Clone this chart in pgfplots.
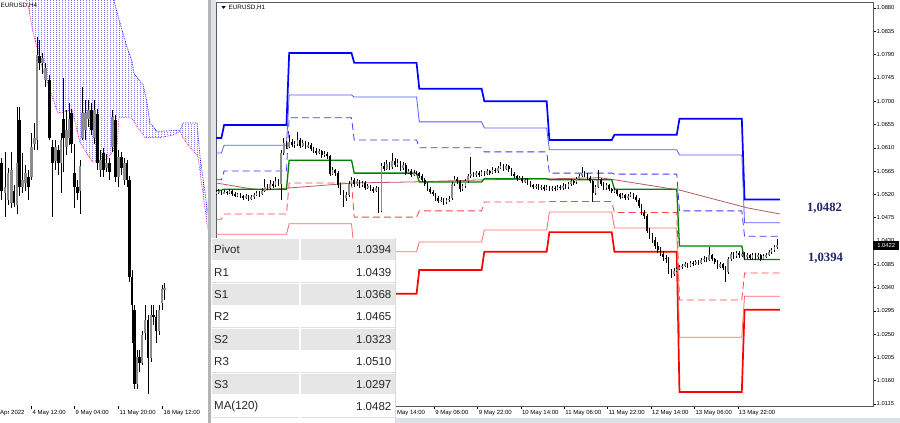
\documentclass[border=0pt]{standalone}
\usepackage{fontspec}
\setmainfont{Liberation Sans}
\newfontfamily\lserif{Liberation Serif}
\usepackage{pgfplots}
\pgfplotsset{compat=1.18}
\usepackage{pgfplotstable}
\usetikzlibrary{patterns}

\pgfdeclarepatternformonly{vdots}{\pgfqpoint{0pt}{0pt}}{\pgfqpoint{3.3pt}{2pt}}{\pgfqpoint{3.3pt}{2pt}}{%
  \pgfpathrectangle{\pgfqpoint{0pt}{0pt}}{\pgfqpoint{1.1pt}{1.1pt}}\pgfusepath{fill}}

\definecolor{rthree}{HTML}{0000FF}
\definecolor{rtwo}{HTML}{5A5AFF}
\definecolor{rone}{HTML}{3A3AFF}
\definecolor{pivotc}{HTML}{008000}
\definecolor{sone}{HTML}{FF4545}
\definecolor{stwo}{HTML}{FF6A6A}
\definecolor{sthree}{HTML}{FF0000}
\definecolor{maline}{HTML}{B85A5A}
\definecolor{navylab}{HTML}{23236B}
\definecolor{rowgray}{HTML}{E6E6E6}
\definecolor{sepgray}{HTML}{B4B4B4}
\definecolor{seplight}{HTML}{DDE2E8}
\definecolor{framegray}{HTML}{5A5A5A}
\definecolor{bullgray}{HTML}{8C8C8C}
\definecolor{tabtext}{HTML}{262626}
\definecolor{cloudblue}{HTML}{3C3CF5}

\newcommand\tickfont{\fontsize{5.8}{6.5}\selectfont}
\newcommand\timefont{\fontsize{6}{7}\selectfont}

% H1 candles: hour, open, high, low, close
\pgfplotstableread{
x o h l c
0 1.0522 1.0528 1.0519 1.0524
1 1.0524 1.0530 1.0521 1.0526
2 1.0526 1.0529 1.0518 1.0522
3 1.0522 1.0528 1.0520 1.0525
4 1.0525 1.0527 1.0519 1.0523
5 1.0523 1.0530 1.0521 1.0526
6 1.0526 1.0528 1.0517 1.0521
7 1.0521 1.0524 1.0514 1.0518
8 1.0518 1.0523 1.0515 1.0520
9 1.0520 1.0522 1.0512 1.0516
10 1.0516 1.0519 1.0509 1.0514
11 1.0514 1.0521 1.0511 1.0517
12 1.0517 1.0519 1.0507 1.0512
13 1.0512 1.0518 1.0509 1.0515
14 1.0515 1.0523 1.0512 1.0519
15 1.0519 1.0527 1.0516 1.0522
16 1.0522 1.0526 1.0515 1.0520
17 1.0520 1.0533 1.0518 1.0527
18 1.0527 1.0550 1.0524 1.0535
19 1.0535 1.0541 1.0528 1.0532
20 1.0532 1.0548 1.0529 1.0540
21 1.0540 1.0546 1.0533 1.0538
22 1.0538 1.0553 1.0535 1.0545
23 1.0545 1.0550 1.0536 1.0541
24 1.0541 1.0606 1.0510 1.0600
25 1.0600 1.0628 1.0596 1.0619
26 1.0619 1.0624 1.0607 1.0612
27 1.0612 1.0635 1.0609 1.0622
28 1.0622 1.0627 1.0611 1.0615
29 1.0615 1.0624 1.0610 1.0618
30 1.0618 1.0640 1.0614 1.0625
31 1.0625 1.0629 1.0609 1.0614
32 1.0614 1.0626 1.0611 1.0620
33 1.0620 1.0623 1.0607 1.0612
34 1.0612 1.0621 1.0609 1.0616
35 1.0616 1.0619 1.0603 1.0608
36 1.0608 1.0612 1.0600 1.0604
37 1.0604 1.0609 1.0596 1.0600
38 1.0600 1.0607 1.0597 1.0603
39 1.0603 1.0606 1.0591 1.0596
40 1.0596 1.0603 1.0593 1.0598
41 1.0598 1.0601 1.0589 1.0594
42 1.0594 1.0597 1.0555 1.0560
43 1.0560 1.0572 1.0557 1.0567
44 1.0567 1.0570 1.0556 1.0562
45 1.0562 1.0565 1.0532 1.0538
46 1.0538 1.0542 1.0519 1.0525
47 1.0525 1.0529 1.0496 1.0512
48 1.0512 1.0524 1.0507 1.0518
49 1.0518 1.0545 1.0515 1.0540
50 1.0540 1.0553 1.0536 1.0548
51 1.0548 1.0551 1.0535 1.0540
52 1.0540 1.0549 1.0537 1.0545
53 1.0545 1.0548 1.0533 1.0538
54 1.0538 1.0546 1.0535 1.0542
55 1.0542 1.0545 1.0529 1.0533
56 1.0533 1.0540 1.0530 1.0536
57 1.0536 1.0539 1.0526 1.0530
58 1.0530 1.0534 1.0522 1.0527
59 1.0527 1.0537 1.0524 1.0532
60 1.0532 1.0535 1.0484 1.0488
61 1.0488 1.0580 1.0486 1.0575
62 1.0575 1.0582 1.0566 1.0570
63 1.0570 1.0586 1.0567 1.0578
64 1.0578 1.0583 1.0568 1.0572
65 1.0572 1.0600 1.0569 1.0585
66 1.0585 1.0590 1.0572 1.0576
67 1.0576 1.0588 1.0573 1.0580
68 1.0580 1.0584 1.0565 1.0570
69 1.0570 1.0582 1.0567 1.0576
70 1.0576 1.0580 1.0558 1.0562
71 1.0562 1.0570 1.0559 1.0565
72 1.0565 1.0568 1.0553 1.0558
73 1.0558 1.0567 1.0555 1.0562
74 1.0562 1.0566 1.0557 1.0561
75 1.0561 1.0564 1.0552 1.0556
76 1.0556 1.0559 1.0544 1.0548
77 1.0548 1.0551 1.0536 1.0540
78 1.0540 1.0543 1.0526 1.0530
79 1.0530 1.0534 1.0520 1.0524
80 1.0524 1.0528 1.0516 1.0520
81 1.0520 1.0523 1.0508 1.0512
82 1.0512 1.0516 1.0504 1.0508
83 1.0508 1.0515 1.0505 1.0510
84 1.0510 1.0513 1.0500 1.0505
85 1.0505 1.0513 1.0502 1.0509
86 1.0509 1.0516 1.0506 1.0512
87 1.0512 1.0544 1.0510 1.0540
88 1.0540 1.0555 1.0537 1.0550
89 1.0550 1.0553 1.0540 1.0545
90 1.0545 1.0548 1.0524 1.0530
91 1.0530 1.0540 1.0527 1.0536
92 1.0536 1.0549 1.0533 1.0545
93 1.0545 1.0559 1.0542 1.0555
94 1.0555 1.0592 1.0552 1.0560
95 1.0560 1.0564 1.0553 1.0557
96 1.0557 1.0566 1.0554 1.0562
97 1.0562 1.0565 1.0554 1.0558
98 1.0558 1.0567 1.0555 1.0563
99 1.0563 1.0566 1.0556 1.0560
100 1.0560 1.0569 1.0557 1.0565
101 1.0565 1.0568 1.0558 1.0562
102 1.0562 1.0572 1.0559 1.0568
103 1.0568 1.0571 1.0561 1.0565
104 1.0565 1.0575 1.0562 1.0571
105 1.0571 1.0582 1.0568 1.0575
106 1.0575 1.0578 1.0566 1.0570
107 1.0570 1.0578 1.0567 1.0574
108 1.0574 1.0577 1.0564 1.0568
109 1.0568 1.0571 1.0556 1.0560
110 1.0560 1.0563 1.0551 1.0555
111 1.0555 1.0558 1.0546 1.0550
112 1.0550 1.0556 1.0547 1.0552
113 1.0552 1.0555 1.0541 1.0545
114 1.0545 1.0552 1.0542 1.0548
115 1.0548 1.0551 1.0538 1.0542
116 1.0542 1.0545 1.0534 1.0538
117 1.0538 1.0541 1.0530 1.0534
118 1.0534 1.0541 1.0531 1.0537
119 1.0537 1.0540 1.0528 1.0532
120 1.0532 1.0539 1.0529 1.0535
121 1.0535 1.0538 1.0527 1.0531
122 1.0531 1.0538 1.0528 1.0534
123 1.0534 1.0537 1.0526 1.0530
124 1.0530 1.0537 1.0527 1.0533
125 1.0533 1.0536 1.0527 1.0531
126 1.0531 1.0539 1.0528 1.0535
127 1.0535 1.0538 1.0528 1.0532
128 1.0532 1.0541 1.0529 1.0537
129 1.0537 1.0540 1.0530 1.0534
130 1.0534 1.0544 1.0531 1.0540
131 1.0540 1.0549 1.0537 1.0545
132 1.0545 1.0548 1.0539 1.0543
133 1.0543 1.0554 1.0540 1.0550
134 1.0550 1.0560 1.0547 1.0556
135 1.0556 1.0573 1.0553 1.0562
136 1.0562 1.0566 1.0554 1.0558
137 1.0558 1.0561 1.0548 1.0552
138 1.0552 1.0555 1.0541 1.0545
139 1.0545 1.0548 1.0506 1.0522
140 1.0522 1.0539 1.0519 1.0535
141 1.0535 1.0567 1.0532 1.0548
142 1.0548 1.0551 1.0536 1.0540
143 1.0540 1.0543 1.0528 1.0532
144 1.0532 1.0542 1.0529 1.0538
145 1.0538 1.0541 1.0526 1.0530
146 1.0530 1.0533 1.0522 1.0526
147 1.0526 1.0532 1.0523 1.0528
148 1.0528 1.0531 1.0516 1.0520
149 1.0520 1.0523 1.0511 1.0515
150 1.0515 1.0522 1.0512 1.0518
151 1.0518 1.0521 1.0509 1.0513
152 1.0513 1.0521 1.0510 1.0517
153 1.0517 1.0524 1.0514 1.0520
154 1.0520 1.0523 1.0511 1.0515
155 1.0515 1.0518 1.0506 1.0510
156 1.0510 1.0513 1.0494 1.0498
157 1.0498 1.0502 1.0481 1.0485
158 1.0485 1.0489 1.0472 1.0478
159 1.0478 1.0482 1.0445 1.0450
160 1.0450 1.0455 1.0434 1.0440
161 1.0440 1.0446 1.0427 1.0432
162 1.0432 1.0437 1.0414 1.0420
163 1.0420 1.0428 1.0406 1.0412
164 1.0412 1.0418 1.0400 1.0405
165 1.0405 1.0410 1.0392 1.0398
166 1.0398 1.0403 1.0388 1.0395
167 1.0395 1.0399 1.0366 1.0372
168 1.0372 1.0376 1.0358 1.0366
169 1.0366 1.0377 1.0363 1.0372
170 1.0372 1.0380 1.0369 1.0376
171 1.0376 1.0384 1.0373 1.0380
172 1.0380 1.0386 1.0376 1.0382
173 1.0382 1.0389 1.0379 1.0385
174 1.0385 1.0388 1.0378 1.0382
175 1.0382 1.0392 1.0379 1.0388
176 1.0388 1.0391 1.0382 1.0386
177 1.0386 1.0394 1.0383 1.0390
178 1.0390 1.0393 1.0384 1.0388
179 1.0388 1.0397 1.0385 1.0393
180 1.0393 1.0400 1.0390 1.0396
181 1.0396 1.0399 1.0390 1.0394
182 1.0394 1.0418 1.0391 1.0402
183 1.0402 1.0405 1.0391 1.0395
184 1.0395 1.0398 1.0385 1.0390
185 1.0390 1.0393 1.0375 1.0380
186 1.0380 1.0389 1.0377 1.0385
187 1.0385 1.0388 1.0373 1.0378
188 1.0378 1.0381 1.0351 1.0370
189 1.0370 1.0399 1.0367 1.0395
190 1.0395 1.0409 1.0392 1.0405
191 1.0405 1.0408 1.0396 1.0400
192 1.0400 1.0411 1.0397 1.0407
193 1.0407 1.0410 1.0398 1.0402
194 1.0402 1.0409 1.0399 1.0405
195 1.0405 1.0408 1.0394 1.0398
196 1.0398 1.0406 1.0395 1.0402
197 1.0402 1.0405 1.0393 1.0397
198 1.0397 1.0407 1.0394 1.0403
199 1.0403 1.0406 1.0394 1.0398
200 1.0398 1.0406 1.0395 1.0402
201 1.0402 1.0405 1.0392 1.0396
202 1.0396 1.0404 1.0393 1.0400
203 1.0400 1.0407 1.0397 1.0403
204 1.0403 1.0412 1.0400 1.0408
205 1.0408 1.0416 1.0405 1.0412
206 1.0412 1.0422 1.0409 1.0418
207 1.0418 1.0433 1.0415 1.0422
}\hone

% daily levels (step lines)
\pgfplotstableread{
x R3 R2 R1 P S1 S2 S3
0 1.0629 1.0600 1.0548 1.0528 1.0472 1.0443 1.0389
2 1.0629 1.0600 1.0548 1.0528 1.0472 1.0443 1.0389
3 1.0654 1.0615 1.0565 1.0530 1.0482 1.0443 1.0389
26 1.0654 1.0615 1.0565 1.0530 1.0482 1.0443 1.0389
27 1.0793 1.0712 1.0668 1.0586 1.0542 1.0463 1.0403
50 1.0793 1.0712 1.0668 1.0586 1.0542 1.0463 1.0403
51 1.0774 1.0708 1.0625 1.0561 1.0476 1.0409 1.0328
74 1.0774 1.0708 1.0625 1.0561 1.0476 1.0409 1.0328
75 1.0724 1.0660 1.0610 1.0544 1.0488 1.0428 1.0374
98 1.0724 1.0660 1.0610 1.0544 1.0488 1.0428 1.0374
99 1.0700 1.0648 1.0602 1.0550 1.0505 1.0451 1.0409
122 1.0700 1.0648 1.0602 1.0550 1.0505 1.0451 1.0409
123 1.0625 1.0606 1.0561 1.0548 1.0506 1.0486 1.0447
146 1.0625 1.0606 1.0561 1.0548 1.0506 1.0486 1.0447
147 1.0635 1.0606 1.0559 1.0530 1.0485 1.0455 1.0409
170 1.0635 1.0606 1.0559 1.0530 1.0485 1.0455 1.0409
171 1.0666 1.0596 1.0488 1.0420 1.0316 1.0244 1.0138
194 1.0666 1.0596 1.0488 1.0420 1.0316 1.0244 1.0138
195 1.0510 1.0465 1.0439 1.0394 1.0368 1.0323 1.0297
208 1.0510 1.0465 1.0439 1.0394 1.0368 1.0323 1.0297
}\levels

% H4 candles (left panel)
\pgfplotstableread{
x o h l c
1.5 1.0537 1.0541 1.0506 1.0514
5 1.0512 1.0546 1.0492 1.0517
8 1.0506 1.0533 1.0502 1.0529
11.5 1.0504 1.0546 1.0500 1.0531
14 1.0514 1.0519 1.0500 1.0504
17 1.0502 1.0583 1.0495 1.0537
19.5 1.0573 1.0583 1.0510 1.0517
22.5 1.0517 1.0545 1.0512 1.0523
25.5 1.0520 1.0535 1.0514 1.0529
28.5 1.0525 1.0531 1.0506 1.0517
31.5 1.0525 1.0562 1.0523 1.0550
34.5 1.0553 1.0570 1.0548 1.0558
37 1.0556 1.0641 1.0548 1.0626
39.5 1.0626 1.0639 1.0614 1.0620
42.5 1.0620 1.0628 1.0611 1.0624
45.5 1.0606 1.0620 1.0600 1.0616
49.5 1.0606 1.0610 1.0556 1.0558
52.5 1.0550 1.0556 1.0492 1.0537
55.5 1.0539 1.0556 1.0531 1.0550
58.5 1.0548 1.0552 1.0527 1.0537
61 1.0537 1.0562 1.0512 1.0556
63.5 1.0573 1.0607 1.0529 1.0558
66.5 1.0550 1.0581 1.0544 1.0564
69 1.0558 1.0587 1.0552 1.0573
71.5 1.0578 1.0582 1.0545 1.0553
74.5 1.0529 1.0553 1.0500 1.0517
77.5 1.0517 1.0523 1.0506 1.0512
80 1.0514 1.0539 1.0495 1.0534
82.5 1.0558 1.0600 1.0556 1.0578
85.5 1.0564 1.0589 1.0556 1.0578
88.5 1.0573 1.0589 1.0567 1.0581
91.5 1.0581 1.0587 1.0560 1.0564
94.5 1.0558 1.0589 1.0553 1.0581
97.5 1.0578 1.0582 1.0531 1.0537
100.5 1.0531 1.0548 1.0525 1.0539
103.5 1.0545 1.0549 1.0525 1.0531
106.5 1.0533 1.0544 1.0529 1.0537
109.5 1.0537 1.0541 1.0523 1.0529
112.5 1.0550 1.0581 1.0546 1.0575
115.5 1.0573 1.0577 1.0521 1.0525
118.5 1.0525 1.0548 1.0517 1.0542
121.5 1.0542 1.0546 1.0527 1.0533
124.5 1.0523 1.0541 1.0519 1.0537
127 1.0537 1.0539 1.0517 1.0523
129.5 1.0523 1.0526 1.0438 1.0442
132 1.0442 1.0448 1.0388 1.0419
134.5 1.0415 1.0419 1.0350 1.0354
137 1.0354 1.0382 1.0350 1.0376
139.5 1.0376 1.0382 1.0364 1.0371
142 1.0371 1.0398 1.0369 1.0394
145 1.0396 1.0419 1.0390 1.0407
148 1.0407 1.0411 1.0345 1.0375
151 1.0375 1.0419 1.0372 1.0411
153.5 1.0411 1.0419 1.0403 1.0409
156 1.0409 1.0415 1.0388 1.0398
159 1.0398 1.0419 1.0394 1.0415
162 1.0421 1.0436 1.0415 1.0432
164.5 1.0432 1.0437 1.0423 1.0433
}\hfour

\pgfplotsset{
  wick/.style={draw=none, mark=none, forget plot,
    error bars/.cd, y dir=both, y explicit, error mark=none,
    error bar style={draw=black, solid, line cap=butt, line width=#1}},
  body/.style 2 args={draw=none, mark=none, forget plot,
    error bars/.cd, y dir=both, y explicit, error mark=none,
    error bar style={draw=#1, solid, line cap=butt, line width=#2}},
}

\begin{document}
\begin{tikzpicture}[x=1pt,y=1pt]
\path[use as bounding box] (0,0) rectangle (900,423);
\fill[white] (0,0) rectangle (900,423);

%================ LEFT PANEL (H4) =================
\begin{axis}[at={(0pt,16.5pt)}, anchor=south west, scale only axis,
  width=207.5pt, height=406.5pt,
  xmin=0, xmax=207.5, ymin=1.0335, ymax=1.0672,
  axis x line=bottom, axis y line=none,
  x axis line style={-, draw=none},
  ytick=\empty,
  xtick={31.5,74.5,118.5,162.5},
  xticklabels={4 May 12:00, 9 May 04:00, 11 May 20:00, 16 May 12:00},
  xticklabel style={anchor=north west, font=\timefont, inner sep=1pt},
  tick align=outside, major tick length=2.5pt,
  tick style={black, line width=0.4pt},
  clip mode=individual]
% Ichimoku cloud
\addplot[draw=none, pattern=vdots, pattern color=cloudblue] coordinates {
 (25,1.0676) (113,1.0676) (115,1.0668) (120,1.0653) (127,1.0633) (132,1.0621) (134,1.0611)
 (143,1.0602) (147,1.0587) (150,1.0570) (157,1.0563) (180,1.0564) (183,1.0570) (197,1.0570)
 (200,1.0542) (208,1.0494)
 (208,1.0481) (198,1.0542) (190,1.0550) (183,1.0558) (180,1.0563) (173,1.0560) (160,1.0558)
 (145,1.0558) (137,1.0567) (132,1.0574) (119,1.0575) (117,1.0550) (103,1.0537) (92,1.0538)
 (80,1.0554) (72,1.0581) (58,1.0578) (43,1.0614) (33,1.0645) (28,1.0668) (25,1.0676)} -- cycle;
\addplot[blue, densely dotted, line width=0.7pt] coordinates {
 (113,1.0676) (115,1.0668) (120,1.0653) (127,1.0633) (132,1.0621) (134,1.0611)
 (143,1.0602) (147,1.0587) (150,1.0570) (157,1.0563) (180,1.0564) (183,1.0570) (197,1.0570)
 (200,1.0542) (208,1.0494)};
\addplot[magenta, densely dotted, line width=0.7pt] coordinates {
 (208,1.0481) (198,1.0542) (190,1.0550) (183,1.0558) (180,1.0563) (173,1.0560) (160,1.0558)
 (145,1.0558) (137,1.0567) (132,1.0574) (119,1.0575) (117,1.0550) (103,1.0537) (92,1.0538)
 (80,1.0554) (72,1.0581) (58,1.0578) (43,1.0614) (33,1.0645) (28,1.0668) (25,1.0676)};
% wicks
\addplot[wick=0.7pt]
  table[x=x, y expr={(\thisrow{h}+\thisrow{l})/2}, y error expr={(\thisrow{h}-\thisrow{l})/2}] {\hfour};
% bull bodies
\addplot[restrict expr to domain={\thisrow{c}-\thisrow{o}}{0:1}, body={bullgray}{2.2pt}]
  table[x=x, y expr={(\thisrow{o}+\thisrow{c})/2}, y error expr={abs(\thisrow{c}-\thisrow{o})/2}] {\hfour};
% bear bodies
\addplot[restrict expr to domain={\thisrow{c}-\thisrow{o}}{-1:0}, body={black}{2.2pt}]
  table[x=x, y expr={(\thisrow{o}+\thisrow{c})/2}, y error expr={abs(\thisrow{c}-\thisrow{o})/2}] {\hfour};
\node[anchor=north west, font=\timefont, inner sep=1pt] at (axis cs:-1,1.0335) [yshift=-2.5pt] {Apr 2022};
\end{axis}
\node[anchor=west, font=\fontsize{6.3}{7}\selectfont, inner sep=0pt] at (0.5,417.5) {EURUSD,H4};

% separator between panels
\fill[sepgray] (207.5,0) rectangle (211,423);
\fill[seplight] (211,0) rectangle (215.5,423);

%================ RIGHT PANEL (H1) =================
\begin{axis}[at={(216pt,16.5pt)}, anchor=south west, scale only axis,
  width=657pt, height=404.5pt,
  xmin=0, xmax=242.4, ymin=1.01101, ymax=1.08916,
  axis line style={draw=framegray, line width=0.8pt},
  ytick={1.0115,1.0160,1.0205,1.0250,1.0295,1.0340,1.0385,1.0430,1.0475,1.0520,1.0565,1.0610,1.0655,1.0700,1.0745,1.0790,1.0835,1.0880},
  yticklabel pos=right, ytick pos=right, scaled y ticks=false,
  yticklabel style={font=\tickfont, anchor=west, inner sep=1pt,
    /pgf/number format/fixed, /pgf/number format/fixed zerofill,
    /pgf/number format/precision=4, /pgf/number format/assume math mode=true},
  xtick={64.5,80.5,96.5,112.5,128.5,144.5,160.5,176.5,192.5},
  xticklabels={6 May 14:00, 9 May 06:00, 9 May 22:00, 10 May 14:00, 11 May 06:00, 11 May 22:00, 12 May 14:00, 13 May 06:00, 13 May 22:00},
  xtick pos=bottom,
  xticklabel style={anchor=north west, font=\timefont, inner sep=1pt},
  tick align=outside, major tick length=2.5pt,
  tick style={black, line width=0.4pt},
  clip mode=individual]
% MA(120)
\addplot[maline, line width=0.8pt] coordinates {
 (0,1.0542) (11.4,1.0532) (17.7,1.0528) (26.2,1.0532) (36.2,1.0536) (50.9,1.0542)
 (73.1,1.0544) (98.5,1.0548) (122.9,1.0550) (141.7,1.0552) (147.2,1.0548)
 (171.2,1.0528) (195.9,1.0494) (208,1.0482)};
% levels
\addplot[sthree, line width=1.7pt] table[x=x, y=S3] {\levels};
\addplot[stwo, line width=0.8pt] table[x=x, y=S2] {\levels};
\addplot[sone, line width=0.8pt, dash pattern=on 7pt off 4pt] table[x=x, y=S1] {\levels};
\addplot[rthree, line width=1.7pt] table[x=x, y=R3] {\levels};
\addplot[rtwo, line width=0.8pt] table[x=x, y=R2] {\levels};
\addplot[rone, line width=0.8pt, dash pattern=on 7pt off 4pt] table[x=x, y=R1] {\levels};
\addplot[pivotc, line width=1.3pt] table[x=x, y=P] {\levels};
% wicks
\addplot[wick=0.6pt]
  table[x=x, y expr={(\thisrow{h}+\thisrow{l})/2}, y error expr={(\thisrow{h}-\thisrow{l})/2}] {\hone};
% bull bodies
\addplot[restrict expr to domain={\thisrow{c}-\thisrow{o}}{0:1}, body={bullgray}{1.6pt}]
  table[x=x, y expr={(\thisrow{o}+\thisrow{c})/2}, y error expr={abs(\thisrow{c}-\thisrow{o})/2}] {\hone};
% bear bodies
\addplot[restrict expr to domain={\thisrow{c}-\thisrow{o}}{-1:0}, body={black}{1.6pt}]
  table[x=x, y expr={(\thisrow{o}+\thisrow{c})/2}, y error expr={abs(\thisrow{c}-\thisrow{o})/2}] {\hone};
% current price box
\node[anchor=west, fill=black, text=white, font=\tickfont, inner sep=1pt, minimum width=26pt, minimum height=9pt]
  at (axis cs:242.4,1.0422) {1.0422};
\end{axis}
% title of H1 chart
\fill[black] (221.5,416.8) -- (225.7,416.8) -- (223.6,414.2) -- cycle;
\node[anchor=west, font=\fontsize{6.3}{7}\selectfont, inner sep=0pt] at (228.5,415.5) {EURUSD,H1};

% value labels on the right
\node[font=\lserif\bfseries\fontsize{12.7}{14}\selectfont, text=navylab] at (824.5,215) {1,0482};
\node[font=\lserif\bfseries\fontsize{12.7}{14}\selectfont, text=navylab] at (825.5,165) {1,0394};

% bottom strip
\fill[seplight] (395,0) rectangle (900,5);

%================ TABLE OVERLAY =================
\fill[white] (211,0) rectangle (395,184.5);
\foreach \i/\lab/\val in {0/Pivot/1.0394, 1/R1/1.0439, 2/S1/1.0368, 3/R2/1.0465, 4/S2/1.0323, 5/R3/1.0510, 6/S3/1.0297, 7/MA(120)/1.0482}{
  \pgfmathsetmacro\top{184.5-22.4*\i}
  \pgfmathsetmacro\bot{\top-22.4}
  \pgfmathsetmacro\mid{\top-11.2}
  \pgfmathtruncatemacro\odd{mod(\i,2)}
  \ifnum\odd=0
    \fill[rowgray] (212,\bot+0.8) rectangle (394.5,\top-0.8);
  \else
    \draw[gray!25, line width=0.6pt] (212,\bot+0.5) -- (394.5,\bot+0.5);
  \fi
  \node[anchor=west, font=\fontsize{11.5}{13}\selectfont, text=tabtext, inner sep=0pt] at (214,\mid) {\lab};
  \node[anchor=east, font=\fontsize{11.5}{13}\selectfont, text=tabtext, inner sep=0pt] at (391.5,\mid) {\val};
}
\draw[white, line width=1.5pt] (300,5) -- (300,184.5);
\draw[gray!30, line width=0.5pt] (395,0) -- (395,184.5);
\end{tikzpicture}
\end{document}
